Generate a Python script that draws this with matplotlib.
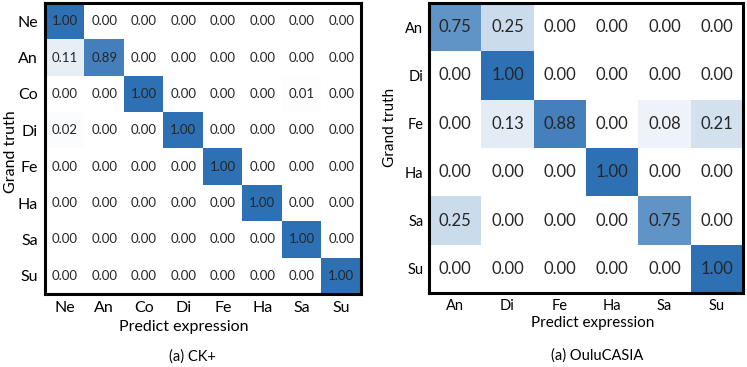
import matplotlib.pyplot as plt
from matplotlib.colors import LinearSegmentedColormap

plt.rcParams['font.family'] = ['Lato', 'DejaVu Sans']

# CK+ confusion matrix
ck_labels = ['Ne', 'An', 'Co', 'Di', 'Fe', 'Ha', 'Sa', 'Su']
ck_matrix = [
    [1.00, 0.00, 0.00, 0.00, 0.00, 0.00, 0.00, 0.00],
    [0.11, 0.89, 0.00, 0.00, 0.00, 0.00, 0.00, 0.00],
    [0.00, 0.00, 1.00, 0.00, 0.00, 0.00, 0.01, 0.00],
    [0.02, 0.00, 0.00, 1.00, 0.00, 0.00, 0.00, 0.00],
    [0.00, 0.00, 0.00, 0.00, 1.00, 0.00, 0.00, 0.00],
    [0.00, 0.00, 0.00, 0.00, 0.00, 1.00, 0.00, 0.00],
    [0.00, 0.00, 0.00, 0.00, 0.00, 0.00, 1.00, 0.00],
    [0.00, 0.00, 0.00, 0.00, 0.00, 0.00, 0.00, 1.00],
]

# OuluCASIA confusion matrix
oulu_labels = ['An', 'Di', 'Fe', 'Ha', 'Sa', 'Su']
oulu_matrix = [
    [0.75, 0.25, 0.00, 0.00, 0.00, 0.00],
    [0.00, 1.00, 0.00, 0.00, 0.00, 0.00],
    [0.00, 0.13, 0.88, 0.00, 0.08, 0.21],
    [0.00, 0.00, 0.00, 1.00, 0.00, 0.00],
    [0.25, 0.00, 0.00, 0.00, 0.75, 0.00],
    [0.00, 0.00, 0.00, 0.00, 0.00, 1.00],
]

cmap = LinearSegmentedColormap.from_list('blu', ['#ffffff', '#2d70b4'])


def draw_matrix(ax, matrix, labels, num_size, tick_size, pad):
    n = len(labels)
    ax.imshow(matrix, cmap=cmap, vmin=0, vmax=1, aspect='auto', interpolation='nearest')
    for i in range(n):
        for j in range(n):
            ax.text(j, i, '%.2f' % matrix[i][j], ha='center', va='center',
                    fontsize=num_size, color='#262626')
    ax.set_xticks(range(n))
    ax.set_yticks(range(n))
    ax.set_xticklabels(labels, fontsize=tick_size)
    ax.set_yticklabels(labels, fontsize=tick_size)
    ax.tick_params(length=0, pad=pad)
    for s in ax.spines.values():
        s.set_linewidth(2.2)
        s.set_color('black')


fig = plt.figure(figsize=(7.47, 3.67), dpi=100)

ax1 = fig.add_axes([45 / 747, 73 / 367, 316 / 747, 291 / 367])
draw_matrix(ax1, ck_matrix, ck_labels, 9.5, 11.5, 5)
ax1.set_xlabel('Predict expression', fontsize=11.5)
ax1.xaxis.label.set_va('center')
ax1.xaxis.set_label_coords(0.44, -0.115)
ax1.set_ylabel('Grand truth', fontsize=11.5)
ax1.yaxis.label.set_va('center')
ax1.yaxis.set_label_coords(-0.107, 0.49)

ax2 = fig.add_axes([429 / 747, 74 / 367, 314 / 747, 290 / 367])
draw_matrix(ax2, oulu_matrix, oulu_labels, 12, 10.5, 4)
ax2.set_xlabel('Predict expression', fontsize=11)
ax2.xaxis.label.set_va('center')
ax2.xaxis.set_label_coords(0.52, -0.103)
ax2.set_ylabel('Grand truth', fontsize=11)
ax2.yaxis.label.set_va('center')
ax2.yaxis.set_label_coords(-0.125, 0.57)

fig.text(192 / 747, 1 - 357 / 367, '(a) CK+', ha='center', va='center', fontsize=10.5)
fig.text(597 / 747, 1 - 356 / 367, '(a) OuluCASIA', ha='center', va='center', fontsize=10.5)

fig.savefig('out.png', dpi=100)
